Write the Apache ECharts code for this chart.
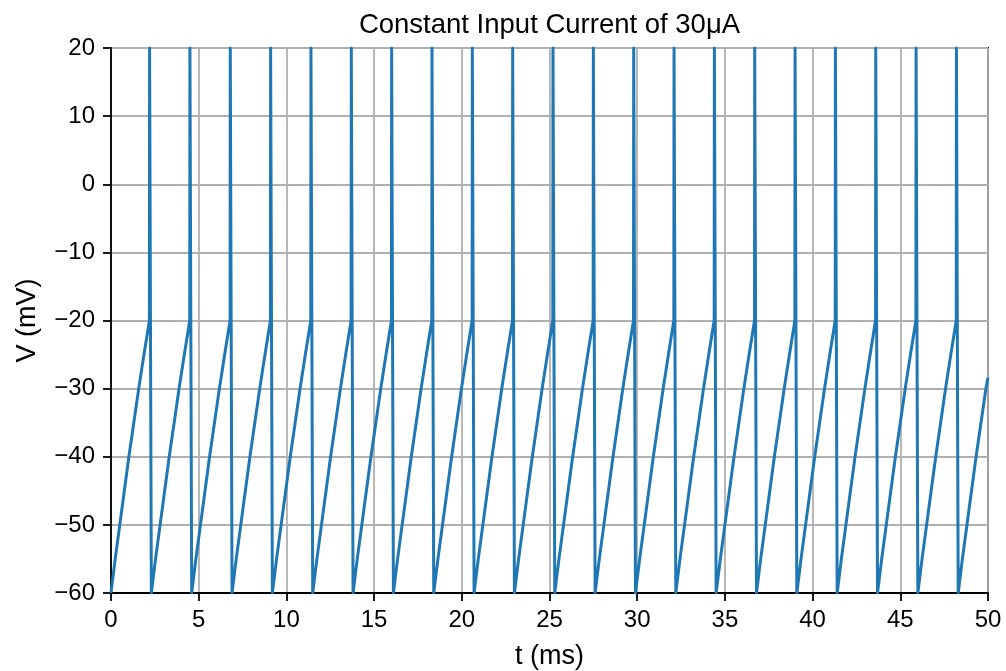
<!DOCTYPE html>
<html>
<head>
<meta charset="utf-8">
<title>Constant Input Current of 30μA</title>
<script src="https://cdn.jsdelivr.net/npm/echarts@6/dist/echarts.min.js"></script>
<style>
  html, body { margin: 0; padding: 0; background: #fff; }
  #chart { width: 1006px; height: 671px; }
</style>
</head>
<body>
<div id="chart"></div>
<script>
// Membrane potential of an integrate-and-fire neuron under a constant 30 µA input.

// Times (ms) at which the potential is reset to -60 mV and a new charging ramp starts
const resetTimes = [0, 2.3, 4.6, 6.9, 9.2, 11.5, 13.8, 16.1, 18.4, 20.7, 23.0,
                    25.3, 27.6, 29.9, 32.2, 34.5, 36.8, 39.1, 41.4, 43.7, 46.0, 48.3];

// One charging ramp: time since reset (ms) and potential (mV), up to threshold
const rampOffsets = [0, 0.24, 0.50, 0.76, 1.02, 1.30, 1.58, 1.88, 2.19];
const rampVolts   = [-60, -55, -50, -45, -40, -35, -30, -25, -20];

// Spike: peak potential and the time (after reset) at which it is reached
const spikePeak = 20;
const spikeOffset = 2.2;

// Last sample of the trace
const endTime = 50;
const endVolt = -28.4;

// Axis ticks
const xTicks = [0, 5, 10, 15, 20, 25, 30, 35, 40, 45, 50];
const yTicks = [-60, -50, -40, -30, -20, -10, 0, 10, 20];

// Assemble the voltage trace
const trace = [];
resetTimes.forEach((r, k) => {
  const isLast = k === resetTimes.length - 1;
  rampOffsets.forEach((o, i) => {
    if (r + o < endTime) trace.push([r + o, rampVolts[i]]);
  });
  if (!isLast) {
    trace.push([r + spikeOffset, spikePeak]);
  } else {
    trace.push([endTime, endVolt]);
  }
});

const FONT = "'Liberation Sans', Arial, Helvetica, sans-serif";
const minus = v => String(v).replace('-', '\u2212');

const chart = echarts.init(document.getElementById('chart'), null, { renderer: 'canvas' });
chart.setOption({
  animation: false,
  backgroundColor: '#ffffff',
  textStyle: { fontFamily: FONT },
  grid: {
    left: 111, top: 48, width: 877, height: 545,
    containLabel: false, outerBoundsMode: 'none',
    show: true, borderColor: '#000', borderWidth: 1.8, backgroundColor: 'transparent'
  },
  graphic: [{
    type: 'text', x: 549.5, y: 25, z: 10,
    style: {
      text: 'Constant Input Current of 30μA',
      font: '27.5px ' + FONT, fill: '#000',
      textAlign: 'center', textVerticalAlign: 'middle'
    }
  }],
  xAxis: {
    type: 'value',
    min: xTicks[0], max: xTicks[xTicks.length - 1], interval: 5,
    name: 't (ms)', nameLocation: 'middle', nameGap: 50,
    nameTextStyle: { fontSize: 27, color: '#000', fontFamily: FONT },
    axisLine: { show: true, onZero: false, lineStyle: { color: '#000', width: 1.8 } },
    axisTick: { show: true, inside: false, length: 8, lineStyle: { color: '#000', width: 1.8 } },
    axisLabel: { fontSize: 24, color: '#000', margin: 15, fontFamily: FONT, formatter: minus },
    splitLine: { show: true, lineStyle: { color: '#b0b0b0', width: 1.8 } }
  },
  yAxis: {
    type: 'value',
    min: yTicks[0], max: yTicks[yTicks.length - 1], interval: 10,
    name: 'V (mV)', nameLocation: 'middle', nameGap: 70, nameRotate: 90,
    nameTextStyle: { fontSize: 27, color: '#000', fontFamily: FONT },
    axisLine: { show: true, onZero: false, lineStyle: { color: '#000', width: 1.8 } },
    axisTick: { show: true, inside: false, length: 8, lineStyle: { color: '#000', width: 1.8 } },
    axisLabel: { fontSize: 24, color: '#000', margin: 16, fontFamily: FONT, formatter: minus },
    splitLine: { show: true, lineStyle: { color: '#b0b0b0', width: 1.8 } }
  },
  series: [{
    type: 'line',
    data: trace,
    showSymbol: false,
    clip: true,
    lineStyle: { color: '#1f77b4', width: 3, join: 'round', cap: 'butt' },
    itemStyle: { color: '#1f77b4' }
  }]
});
</script>
</body>
</html>
